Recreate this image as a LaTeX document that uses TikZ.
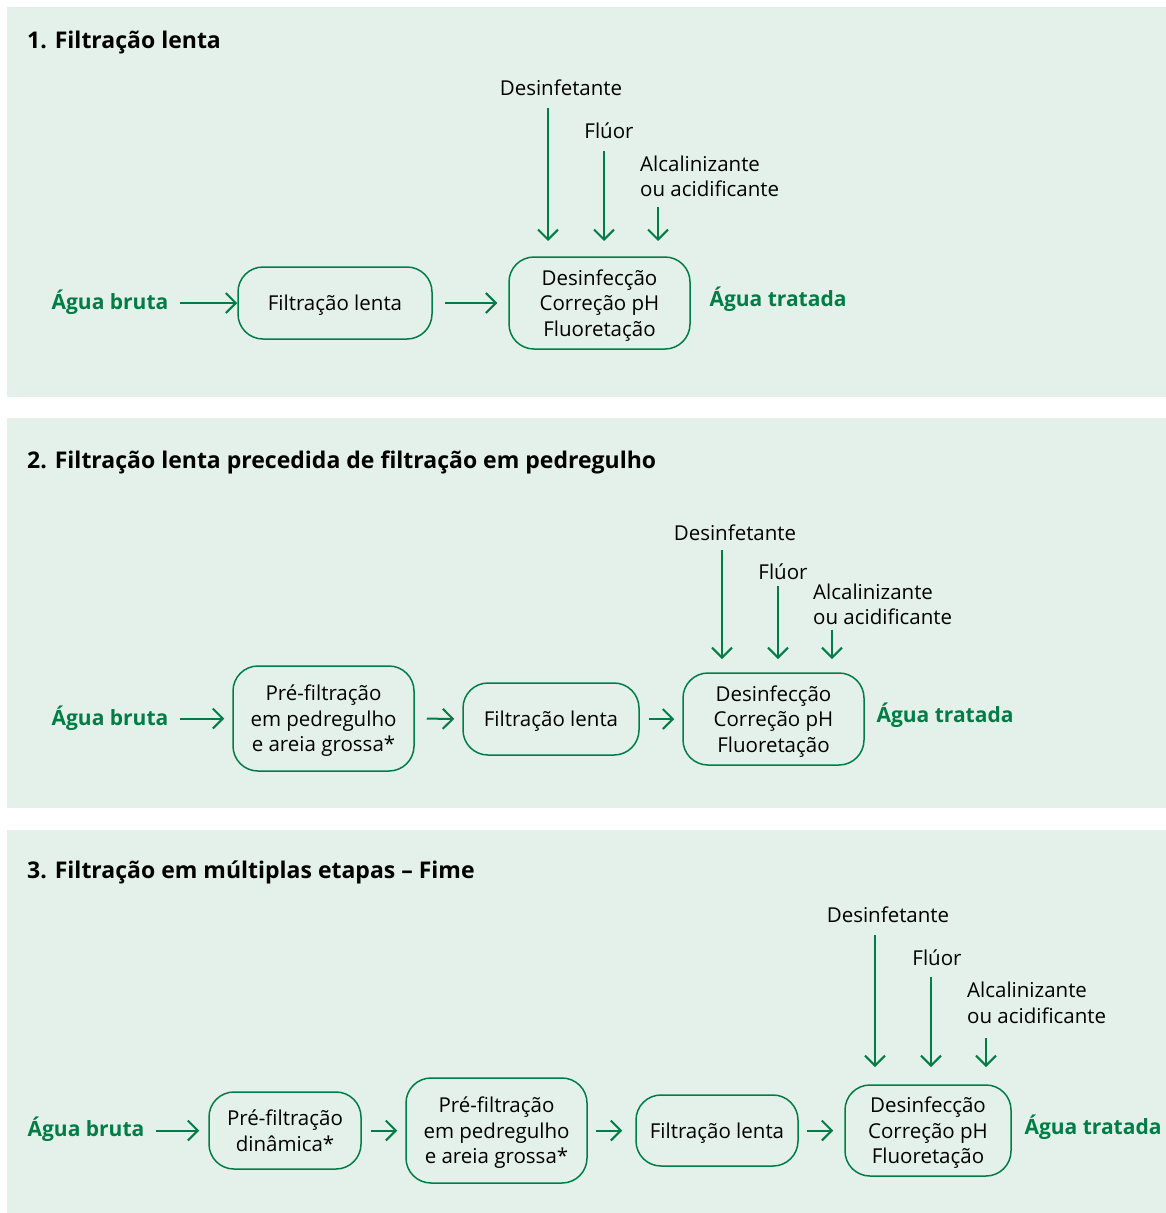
\documentclass[tikz,border=0pt]{standalone}
\usepackage{fontspec}
\setmainfont{Open Sans}
\usetikzlibrary{arrows.meta}
\definecolor{panelbg}{RGB}{228,241,234}
\definecolor{leaf}{RGB}{0,125,70}

\tikzset{
  title/.style={anchor=base west, inner sep=0pt, font=\fontsize{23}{27}\selectfont\bfseries},
  ext/.style={anchor=base, inner sep=0pt, text=leaf, font=\fontsize{21}{25}\selectfont\bfseries},
  proc/.style={draw=leaf, line width=1.5pt, rounded corners=25pt, align=center, inner sep=0pt,
    text depth=0pt, font=\fontsize{20.5}{25.5}\selectfont},
  dose/.style={inner sep=0pt, font=\fontsize{20.5}{25.5}\selectfont},
  flow/.style={draw=leaf, line width=2pt, -{Straight Barb[length=10pt,width=20pt]}},
}

\begin{document}
\begin{tikzpicture}[x=1pt, y=-1pt]
\useasboundingbox (0,0) rectangle (1166,1213);

% panels
\fill[panelbg] (7,7) rectangle (1166,397);
\fill[panelbg] (7,418) rectangle (1166,808);
\fill[panelbg] (7,830) rectangle (1166,1213);

% ---------- 1. Filtração lenta ----------
\node[title] (t1) at (27,48) {1. Filtração lenta};
\node[ext] (in1) at (110,309) {Água bruta};
\node[proc, minimum width=194pt, minimum height=72pt] (f1) at (335,303) {Filtração lenta};
\node[proc, minimum width=181pt, minimum height=92pt] (d1) at (599.5,303) {Desinfecção\\Correção pH\\Fluoretação};
\node[ext] (out1) at (778,306) {Água tratada};
\node[dose] (des1) at (561,88) {Desinfetante};
\node[dose] (flu1) at (609,131) {Flúor};
\node[dose, anchor=west, align=left] (alc1) at (640,176.5) {Alcalinizante\\ou acidificante};
\coordinate (des1tip) at (548,241);
\coordinate (flu1tip) at (604,241);
\coordinate (alc1tip) at (658,241);

\draw[flow, shorten <=11pt] (in1.east |- f1.west) -- (f1.west);
\draw[flow, shorten <=12pt, shorten >=11pt] (f1.east) -- (d1.west);
\draw[flow, shorten <=12pt] (des1.south -| des1tip) -- (des1tip);
\draw[flow, shorten <=12pt] (flu1.south -| flu1tip) -- (flu1tip);
\draw[flow, shorten <=10pt] (alc1.south -| alc1tip) -- (alc1tip);

% ---------- 2. Filtração lenta precedida de filtração em pedregulho ----------
\node[title] (t2) at (27,468) {2. Filtração lenta precedida de filtração em pedregulho};
\node[ext] (in2) at (110,725) {Água bruta};
\node[proc, minimum width=181pt, minimum height=105pt] (p2) at (323.5,718.5) {Pré-filtração\\em pedregulho\\e areia grossa*};
\node[proc, minimum width=176pt, minimum height=72pt] (f2) at (551,719) {Filtração lenta};
\node[proc, minimum width=181pt, minimum height=92pt] (d2) at (773.5,719) {Desinfecção\\Correção pH\\Fluoretação};
\node[ext] (out2) at (945,722) {Água tratada};
\node[dose] (des2) at (735,533) {Desinfetante};
\node[dose] (flu2) at (783,572) {Flúor};
\node[dose, anchor=west, align=left] (alc2) at (813,604.5) {Alcalinizante\\ou acidificante};
\coordinate (des2tip) at (722,659);
\coordinate (flu2tip) at (778,659);
\coordinate (alc2tip) at (832,659);

\draw[flow, shorten <=11pt, shorten >=8pt] (in2.east |- p2.west) -- (p2.west);
\draw[flow, shorten <=12pt, shorten >=8pt] (p2.east) -- (f2.west);
\draw[flow, shorten <=9pt, shorten >=8pt] (f2.east) -- (d2.west);
\draw[flow, shorten <=9pt] (des2.south -| des2tip) -- (des2tip);
\draw[flow, shorten <=6pt] (flu2.south -| flu2tip) -- (flu2tip);
\draw[flow, shorten <=5pt] (alc2.south -| alc2tip) -- (alc2tip);

% ---------- 3. Filtração em múltiplas etapas – Fime ----------
\node[title] (t3) at (27,878) {3. Filtração em múltiplas etapas – Fime};
\node[ext] (in3) at (86,1136) {Água bruta};
\node[proc, minimum width=152pt, minimum height=77pt] (a3) at (285,1130.5) {Pré-filtração\\dinâmica*};
\node[proc, minimum width=181pt, minimum height=105pt] (p3) at (496.5,1130.5) {Pré-filtração\\em pedregulho\\e areia grossa*};
\node[proc, minimum width=162pt, minimum height=71pt] (f3) at (717,1130.5) {Filtração lenta};
\node[proc, minimum width=166pt, minimum height=91pt] (d3) at (928,1130.5) {Desinfecção\\Correção pH\\Fluoretação};
\node[ext] (out3) at (1093,1134) {Água tratada};
\node[dose] (des3) at (888,915) {Desinfetante};
\node[dose] (flu3) at (937,958) {Flúor};
\node[dose, anchor=west, align=left] (alc3) at (967,1003) {Alcalinizante\\ou acidificante};
\coordinate (des3tip) at (875,1067);
\coordinate (flu3tip) at (931,1067);
\coordinate (alc3tip) at (986,1067);

\draw[flow, shorten <=11pt, shorten >=9pt] (in3.east |- a3.west) -- (a3.west);
\draw[flow, shorten <=9pt, shorten >=8pt] (a3.east) -- (p3.west);
\draw[flow, shorten <=8pt, shorten >=13pt] (p3.east) -- (f3.west);
\draw[flow, shorten <=8pt, shorten >=11pt] (f3.east) -- (d3.west);
\draw[flow, shorten <=12pt] (des3.south -| des3tip) -- (des3tip);
\draw[flow, shorten <=11pt] (flu3.south -| flu3tip) -- (flu3tip);
\draw[flow, shorten <=14pt] (alc3.south -| alc3tip) -- (alc3tip);
\end{tikzpicture}
\end{document}
